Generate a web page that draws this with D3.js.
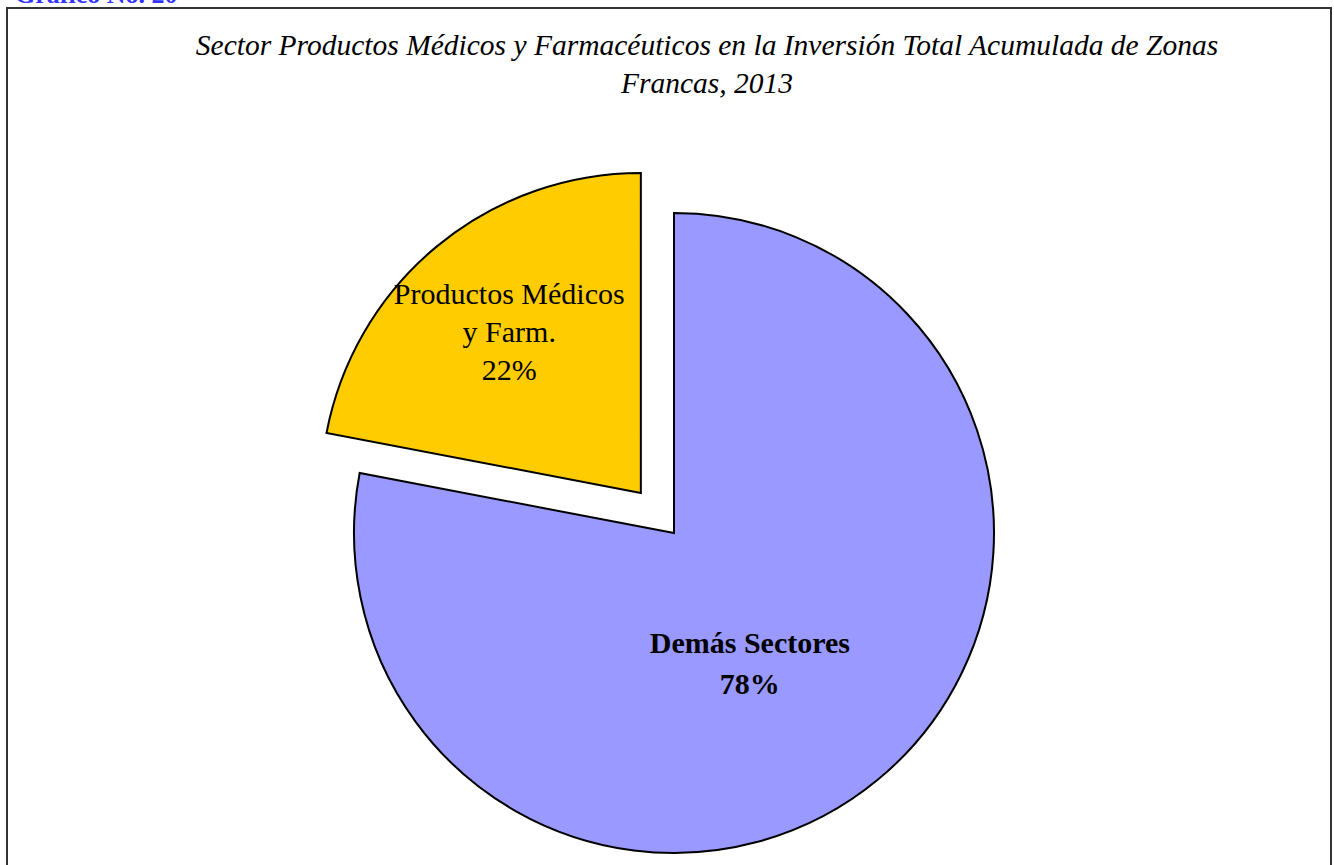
<!DOCTYPE html>
<html>
<head>
<meta charset="utf-8">
<script src="https://cdn.jsdelivr.net/npm/d3@7"></script>
<style>
  body { margin: 0; background: #fff; }
</style>
</head>
<body>
<svg id="chart" width="1334" height="865" viewBox="0 0 1334 865"></svg>
<script>
// data
const sectors = ["Demás Sectores", "Productos Médicos y Farm."];
const shares = [78, 22];
const sectorColors = ["#9999ff", "#ffcc00"];
const labelLines = [["Demás Sectores", "78%"], ["Productos Médicos", "y Farm.", "22%"]];
const titleLines = ["Sector Productos Médicos y Farmacéuticos en la Inversión Total Acumulada de Zonas", "Francas, 2013"];

const serif = "'Liberation Serif', 'Times New Roman', Times, 'DejaVu Serif', serif";

const svg = d3.select("#chart").attr("font-family", serif);
const width = 1334, height = 865;

// caption cut off at the top of the page
svg.append("text")
    .attr("x", 15)
    .attr("y", 3)
    .attr("font-size", 26)
    .attr("font-weight", "bold")
    .attr("fill", "#3333ff")
    .text("Gráfico No. 20");

// chart frame (runs off the bottom)
svg.append("path")
    .attr("d", `M7,${height + 5} L7,8 L1331,8 L1331,${height + 5}`)
    .attr("fill", "none")
    .attr("stroke", "#333")
    .attr("stroke-width", 2);

// title
svg.append("text")
    .attr("text-anchor", "middle")
    .attr("font-size", 29.5)
    .attr("font-style", "italic")
    .attr("fill", "#000")
    .selectAll("tspan")
    .data(titleLines)
    .enter()
    .append("tspan")
    .attr("x", 707)
    .attr("y", (d, i) => 55 + i * 38)
    .text(d => d);

const cx = 674, cy = 533, radius = 320;
const explode = 52;

const pie = d3.pie().sort(null).value(d => d);
const arcs = pie(shares);
const arc = d3.arc().innerRadius(0).outerRadius(radius);

const g = svg.append("g").attr("transform", `translate(${cx},${cy})`);

// only the small slice is pulled out
function offset(d, i) {
    if (i === 0) return [0, 0];
    const a = (d.startAngle + d.endAngle) / 2;
    return [Math.sin(a) * explode, -Math.cos(a) * explode];
}

const slices = g.selectAll(".slice")
    .data(arcs)
    .enter()
    .append("g")
    .attr("class", "slice")
    .attr("transform", (d, i) => {
        const o = offset(d, i);
        return `translate(${o[0]},${o[1]})`;
    });

slices.append("path")
    .attr("d", arc)
    .attr("fill", (d, i) => sectorColors[i])
    .attr("stroke", "#000")
    .attr("stroke-width", 2)
    .attr("stroke-linejoin", "miter");

// label placement, tuned to match the original
const labelRadius = [0.47, 0.65];
const labelNudge = [[-20, 16], [1, 0]];
const labelGap = [41, 38];
const labelStyle = [{ weight: "bold" }, { weight: "normal" }];

slices.append("text")
    .attr("text-anchor", "middle")
    .attr("font-size", 30)
    .attr("font-weight", (d, i) => labelStyle[i].weight)
    .attr("fill", "#000")
    .each(function (d, i) {
        const a = (d.startAngle + d.endAngle) / 2;
        const r = radius * labelRadius[i];
        const x = Math.sin(a) * r + labelNudge[i][0];
        const y = -Math.cos(a) * r + labelNudge[i][1];
        const lines = labelLines[i];
        const lh = labelGap[i];
        const t = d3.select(this);
        lines.forEach((line, k) => {
            t.append("tspan")
                .attr("x", x)
                .attr("y", y + (k - (lines.length - 1) / 2) * lh + 9)
                .text(line);
        });
    });
</script>
</body>
</html>
